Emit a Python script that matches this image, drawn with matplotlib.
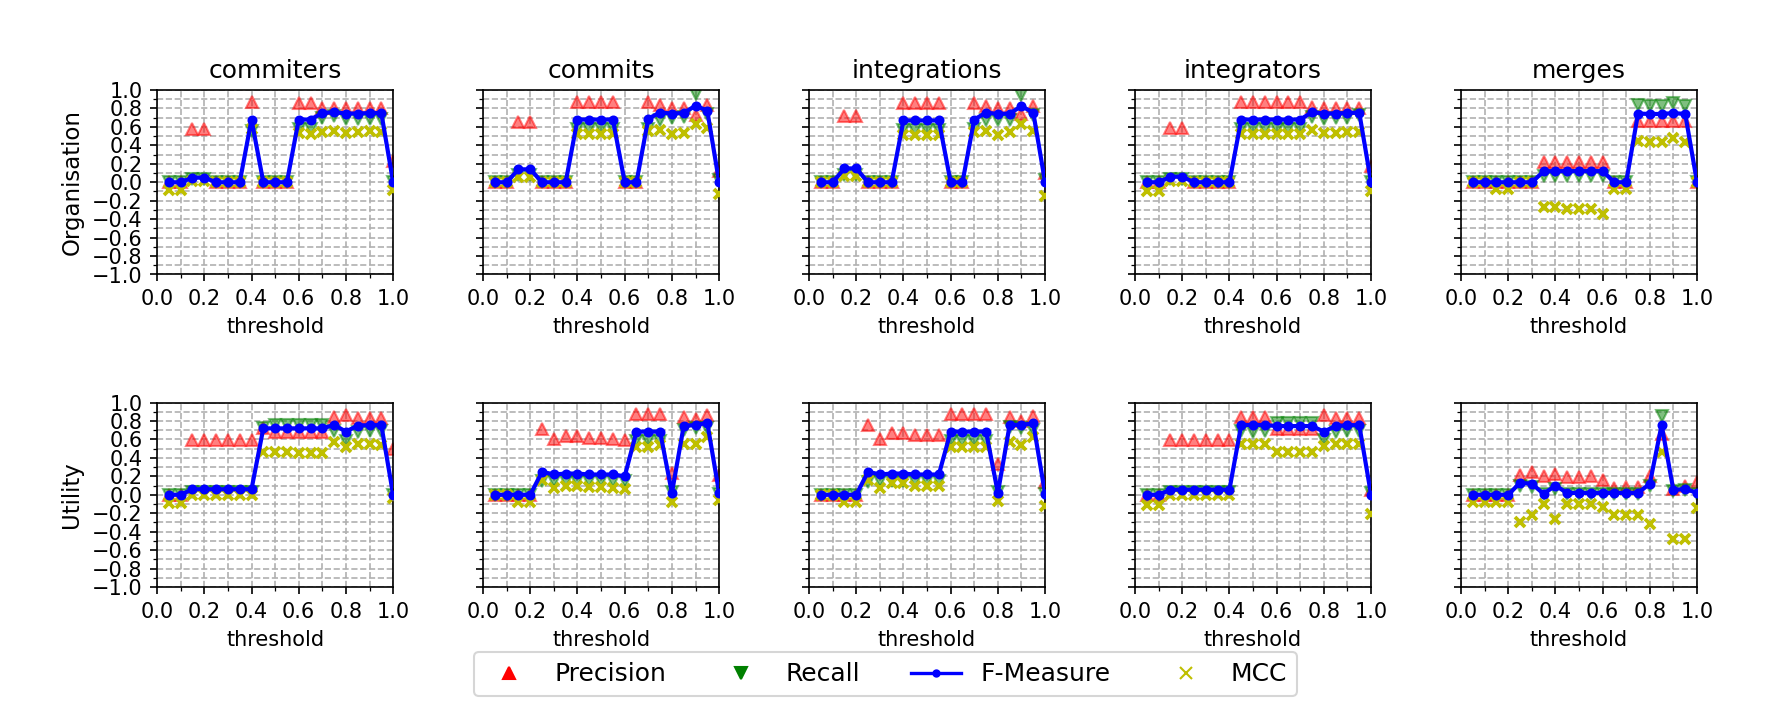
import matplotlib
matplotlib.use("Agg")
import matplotlib.pyplot as plt
from matplotlib.lines import Line2D
from matplotlib.ticker import MultipleLocator

thresholds = [0.05, 0.10, 0.15, 0.20, 0.25, 0.30, 0.35, 0.40, 0.45, 0.50,
              0.55, 0.60, 0.65, 0.70, 0.75, 0.80, 0.85, 0.90, 0.95, 1.00]

metrics = ["commiters", "commits", "integrations", "integrators", "merges"]
rows = ["Organisation", "Utility"]

# Organisation
org_commiters_p = [0, 0, 0.58, 0.58, 0, 0, 0, 0.865, 0, 0, 0, 0.86, 0.86, 0.81, 0.81, 0.81, 0.81, 0.81, 0.81, 0.23]
org_commiters_r = [0, 0, 0.03, 0.03, 0, 0, 0, 0.56, 0, 0, 0, 0.58, 0.58, 0.70, 0.72, 0.69, 0.69, 0.69, 0.69, 0]
org_commiters_f = [0, 0, 0.05, 0.05, 0, 0, 0, 0.68, 0, 0, 0, 0.68, 0.68, 0.75, 0.76, 0.745, 0.745, 0.75, 0.75, 0]
org_commiters_m = [-0.08, -0.08, 0.015, 0.015, 0, 0, 0, 0.58, 0, 0, 0, 0.53, 0.52, 0.54, 0.56, 0.53, 0.54, 0.555, 0.54, -0.08]

org_commits_p = [0, 0, 0.65, 0.65, 0, 0, 0, 0.865, 0.865, 0.865, 0.865, 0, 0, 0.87, 0.835, 0.80, 0.80, 0.73, 0.835, 0.12]
org_commits_r = [0, 0, 0.08, 0.08, 0, 0, 0, 0.58, 0.58, 0.58, 0.58, 0, 0, 0.58, 0.68, 0.70, 0.71, 0.955, 0.745, 0.02]
org_commits_f = [0, 0, 0.14, 0.14, 0, 0, 0, 0.68, 0.68, 0.68, 0.68, 0, 0, 0.69, 0.755, 0.745, 0.75, 0.83, 0.775, 0]
org_commits_m = [0, 0, 0.06, 0.06, 0, 0, 0, 0.525, 0.525, 0.525, 0.525, 0, 0, 0.56, 0.57, 0.525, 0.535, 0.635, 0.59, -0.13]

org_integrations_p = [0, 0, 0.72, 0.72, 0, 0, 0, 0.855, 0.855, 0.855, 0.855, 0, 0, 0.86, 0.825, 0.80, 0.80, 0.735, 0.825, 0.105]
org_integrations_r = [0, 0, 0.08, 0.08, 0, 0, 0, 0.57, 0.57, 0.57, 0.57, 0, 0, 0.58, 0.68, 0.67, 0.68, 0.945, 0.725, 0.02]
org_integrations_f = [0, 0, 0.15, 0.15, 0, 0, 0, 0.67, 0.67, 0.67, 0.67, 0, 0, 0.68, 0.755, 0.74, 0.745, 0.825, 0.755, 0]
org_integrations_m = [0, 0, 0.07, 0.07, 0, 0, 0, 0.51, 0.51, 0.51, 0.51, 0, 0, 0.545, 0.56, 0.51, 0.545, 0.63, 0.56, -0.15]

org_integrators_p = [0, 0, 0.59, 0.59, 0, 0, 0, 0, 0.87, 0.87, 0.87, 0.87, 0.87, 0.87, 0.82, 0.81, 0.81, 0.81, 0.81, 0.18]
org_integrators_r = [0, 0, 0.03, 0.03, 0, 0, 0, 0, 0.58, 0.58, 0.58, 0.58, 0.58, 0.58, 0.71, 0.69, 0.70, 0.70, 0.725, 0]
org_integrators_f = [0, 0, 0.06, 0.06, 0, 0, 0, 0, 0.68, 0.68, 0.68, 0.68, 0.68, 0.68, 0.76, 0.745, 0.745, 0.75, 0.755, 0]
org_integrators_m = [-0.09, -0.09, 0.015, 0.015, 0, 0, 0, 0, 0.525, 0.525, 0.525, 0.525, 0.525, 0.525, 0.57, 0.535, 0.535, 0.545, 0.545, -0.095]

org_merges_p = [0, 0, 0, 0, 0, 0, 0.215, 0.215, 0.215, 0.215, 0.215, 0.215, 0, 0, 0.66, 0.66, 0.66, 0.66, 0.66, 0]
org_merges_r = [0, 0, 0, 0, 0, 0, 0.07, 0.07, 0.07, 0.07, 0.07, 0.07, 0, 0, 0.835, 0.83, 0.83, 0.86, 0.825, 0]
org_merges_f = [0, 0, 0, 0, 0, 0, 0.117, 0.12, 0.12, 0.12, 0.12, 0.12, 0, 0, 0.745, 0.74, 0.74, 0.75, 0.74, 0]
org_merges_m = [0, 0, -0.077, -0.077, 0, 0, -0.27, -0.27, -0.295, -0.295, -0.29, -0.34, -0.077, -0.077, 0.445, 0.435, 0.435, 0.48, 0.44, 0]

# Utility
util_commiters_p = [0, 0, 0.59, 0.59, 0.59, 0.59, 0.59, 0.59, 0.72, 0.685, 0.685, 0.685, 0.685, 0.685, 0.84, 0.865, 0.83, 0.83, 0.83, 0.5]
util_commiters_r = [0, 0, 0.03, 0.03, 0.03, 0.03, 0.03, 0.03, 0.72, 0.757, 0.757, 0.757, 0.757, 0.757, 0.69, 0.58, 0.685, 0.69, 0.69, 0]
util_commiters_f = [0, 0, 0.06, 0.06, 0.06, 0.06, 0.06, 0.06, 0.72, 0.72, 0.72, 0.72, 0.72, 0.72, 0.757, 0.685, 0.75, 0.755, 0.755, 0]
util_commiters_m = [-0.09, -0.09, 0, 0, 0, 0, 0, 0, 0.465, 0.465, 0.46, 0.45, 0.45, 0.455, 0.575, 0.52, 0.55, 0.55, 0.545, -0.03]

util_commits_p = [0, 0, 0, 0, 0.71, 0.61, 0.635, 0.635, 0.62, 0.62, 0.61, 0.59, 0.875, 0.875, 0.875, 0.24, 0.845, 0.82, 0.87, 0.21]
util_commits_r = [0, 0, 0, 0, 0.15, 0.145, 0.145, 0.145, 0.145, 0.145, 0.145, 0.145, 0.58, 0.58, 0.58, 0.035, 0.70, 0.72, 0.72, 0.01]
util_commits_f = [0, 0, 0, 0, 0.25, 0.22, 0.23, 0.23, 0.22, 0.22, 0.22, 0.20, 0.685, 0.685, 0.685, 0.02, 0.745, 0.757, 0.78, 0.02]
util_commits_m = [0, 0, -0.08, -0.08, 0.16, 0.077, 0.10, 0.10, 0.085, 0.085, 0.077, 0.06, 0.52, 0.52, 0.535, -0.08, 0.55, 0.55, 0.63, -0.06]

util_integrations_p = [0, 0, 0, 0, 0.755, 0.605, 0.665, 0.665, 0.645, 0.645, 0.645, 0.875, 0.875, 0.875, 0.875, 0.33, 0.84, 0.80, 0.855, 0.14]
util_integrations_r = [0, 0, 0, 0, 0.14, 0.145, 0.145, 0.145, 0.145, 0.145, 0.145, 0.58, 0.58, 0.58, 0.58, 0.035, 0.73, 0.72, 0.70, 0.01]
util_integrations_f = [0, 0, 0, 0, 0.25, 0.22, 0.23, 0.23, 0.22, 0.22, 0.22, 0.685, 0.685, 0.685, 0.685, 0.02, 0.757, 0.757, 0.775, 0.01]
util_integrations_m = [0, 0, -0.08, -0.08, 0.16, 0.077, 0.13, 0.13, 0.09, 0.09, 0.09, 0.52, 0.52, 0.52, 0.52, -0.065, 0.575, 0.545, 0.63, -0.125]

util_integrators_p = [0, 0, 0.59, 0.59, 0.59, 0.59, 0.59, 0.59, 0.84, 0.84, 0.84, 0.71, 0.71, 0.71, 0.71, 0.865, 0.83, 0.83, 0.83, 0.05]
util_integrators_r = [0, 0, 0.03, 0.03, 0.03, 0.03, 0.03, 0.03, 0.69, 0.685, 0.69, 0.775, 0.775, 0.775, 0.775, 0.59, 0.685, 0.69, 0.69, 0.02]
util_integrators_f = [0, 0, 0.055, 0.055, 0.055, 0.055, 0.055, 0.055, 0.757, 0.757, 0.757, 0.745, 0.745, 0.745, 0.745, 0.685, 0.745, 0.755, 0.755, 0]
util_integrators_m = [-0.11, -0.11, 0, 0, 0, 0, 0, 0, 0.55, 0.55, 0.55, 0.465, 0.465, 0.465, 0.465, 0.525, 0.55, 0.55, 0.55, -0.21]

util_merges_p = [0, 0, 0, 0, 0.21, 0.25, 0.20, 0.22, 0.195, 0.195, 0.20, 0.16, 0.077, 0.085, 0.085, 0.20, 0.655, 0.065, 0.10, 0.14]
util_merges_r = [0, 0, 0, 0, 0.10, 0.08, 0.005, 0.065, 0.01, 0.01, 0.01, 0.01, 0.01, 0.01, 0.01, 0.10, 0.855, 0.04, 0.05, 0.01]
util_merges_f = [0, 0, 0, 0, 0.13, 0.12, 0.01, 0.10, 0.02, 0.02, 0.02, 0.02, 0.02, 0.02, 0.02, 0.12, 0.757, 0.05, 0.065, 0.02]
util_merges_m = [-0.08, -0.08, -0.08, -0.08, -0.295, -0.22, -0.105, -0.265, -0.10, -0.10, -0.10, -0.13, -0.215, -0.215, -0.215, -0.32, 0.46, -0.475, -0.475, -0.145]

data = {
    ("Organisation", "commiters"): (org_commiters_p, org_commiters_r, org_commiters_f, org_commiters_m),
    ("Organisation", "commits"): (org_commits_p, org_commits_r, org_commits_f, org_commits_m),
    ("Organisation", "integrations"): (org_integrations_p, org_integrations_r, org_integrations_f, org_integrations_m),
    ("Organisation", "integrators"): (org_integrators_p, org_integrators_r, org_integrators_f, org_integrators_m),
    ("Organisation", "merges"): (org_merges_p, org_merges_r, org_merges_f, org_merges_m),
    ("Utility", "commiters"): (util_commiters_p, util_commiters_r, util_commiters_f, util_commiters_m),
    ("Utility", "commits"): (util_commits_p, util_commits_r, util_commits_f, util_commits_m),
    ("Utility", "integrations"): (util_integrations_p, util_integrations_r, util_integrations_f, util_integrations_m),
    ("Utility", "integrators"): (util_integrators_p, util_integrators_r, util_integrators_f, util_integrators_m),
    ("Utility", "merges"): (util_merges_p, util_merges_r, util_merges_f, util_merges_m),
}

fig, axes = plt.subplots(2, 5, figsize=(11.807, 4.727), dpi=150, sharey=True)
fig.subplots_adjust(left=0.0887, right=0.9582, top=0.873, bottom=0.172,
                    wspace=0.381, hspace=0.694)

for i, row in enumerate(rows):
    for j, metric in enumerate(metrics):
        ax = axes[i, j]
        p, r, f, m = data[(row, metric)]
        ax.plot(thresholds, p, "^", color="r", alpha=0.5, markersize=5.5)
        ax.plot(thresholds, r, "v", color="g", alpha=0.5, markersize=5.5)
        ax.plot(thresholds, f, "o-", color="b", linewidth=2, markersize=3.8, zorder=4)
        ax.plot(thresholds, m, "x", color="y", markersize=5, markeredgewidth=1.8, zorder=3)

        ax.set_xlim(0, 1)
        ax.set_ylim(-1, 1)
        ax.xaxis.set_major_locator(MultipleLocator(0.2))
        ax.xaxis.set_minor_locator(MultipleLocator(0.1))
        ax.yaxis.set_major_locator(MultipleLocator(0.2))
        ax.yaxis.set_minor_locator(MultipleLocator(0.1))
        ax.grid(True, which="both", linestyle="--", color="#b0b0b0", linewidth=0.8)
        ax.set_axisbelow(True)
        ax.set_xlabel("threshold")
        if i == 0:
            ax.set_title(metric)
        if j == 0:
            ax.set_ylabel(row, fontsize=11)

handles = [
    Line2D([], [], marker="^", color="r", linestyle="None", markersize=6),
    Line2D([], [], marker="v", color="g", linestyle="None", markersize=6),
    Line2D([], [], marker="o", color="b", linestyle="-", linewidth=1.6, markersize=3),
    Line2D([], [], marker="x", color="y", linestyle="None", markersize=6),
]
fig.legend(handles, ["Precision", "Recall", "F-Measure", "MCC"], loc="center",
           bbox_to_anchor=(0.5, 0.049), ncol=4, fontsize=12)

fig.savefig("out.png", dpi=150)
